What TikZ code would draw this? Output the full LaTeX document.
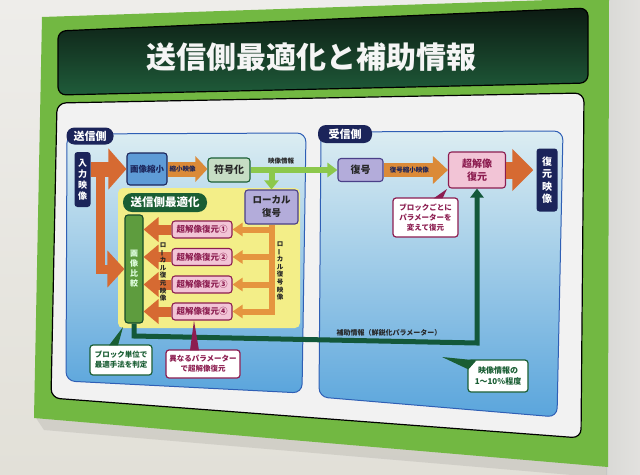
\documentclass[tikz,border=0pt]{standalone}
\usepackage{fontspec}
\setmainfont{Noto Sans CJK JP}
\usetikzlibrary{arrows.meta,calc}
\definecolor{walltop}{HTML}{EEEDEA}
\definecolor{wallbot}{HTML}{E2E0D8}
\definecolor{wallright}{HTML}{D9D9D6}
\definecolor{boardgreen}{HTML}{72B842}
\definecolor{titletop}{HTML}{0C1A12}
\definecolor{titlebot}{HTML}{1F5C3A}
\definecolor{panelwhite}{HTML}{F2F2F2}
\definecolor{bluetop}{HTML}{DCEDF2}
\definecolor{bluebot}{HTML}{5AA5DC}
\definecolor{panelborder}{HTML}{2F5FB5}
\definecolor{navy}{HTML}{1B245A}
\definecolor{borange}{HTML}{D66A32}
\definecolor{lorange}{HTML}{E5953F}
\definecolor{gorange}{HTML}{DB8A38}
\definecolor{srfill}{HTML}{F2C4D6}
\definecolor{srdraw}{HTML}{8C1D50}
\definecolor{lavfill}{HTML}{B3ACDA}
\definecolor{lavdraw}{HTML}{4A3F88}
\definecolor{shrinkfill}{HTML}{5E9BD6}
\definecolor{encfill}{HTML}{C6DDC4}
\definecolor{dgreen}{HTML}{1A5E34}
\definecolor{lgreen}{HTML}{8CC84C}
\definecolor{cmpfill}{HTML}{5E9C3E}
\definecolor{yellowbg}{HTML}{F3EE88}
\definecolor{auxgreen}{HTML}{13583A}
\newcommand{\vchoon}{\rotatebox[origin=c]{90}{ー}}
\tikzset{
  navytag/.style={fill=navy, text=white, rounded corners=8pt, inner sep=0pt, font=\bfseries\fontsize{11}{11}\selectfont, minimum height=17pt},
  navybox/.style={fill=navy, text=white, rounded corners=3pt, inner sep=0pt, align=center, font=\bfseries\fontsize{9}{11}\selectfont},
  shrinkbox/.style={fill=shrinkfill, draw=navy, line width=1.1pt, rounded corners=3pt, text=navy, font=\bfseries\fontsize{8.5}{10}\selectfont, minimum width=40pt, minimum height=32pt, inner sep=0pt},
  encbox/.style={fill=encfill, draw=dgreen, line width=1.1pt, rounded corners=3pt, text=black!85, font=\bfseries\fontsize{10}{10}\selectfont, minimum width=42pt, minimum height=24pt, inner sep=0pt},
  lavbox/.style={fill=lavfill, draw=lavdraw, line width=1.1pt, rounded corners=3pt, text=black!85, align=center, inner sep=0pt},
  srbox/.style={fill=srfill, draw=srdraw, line width=1.1pt, rounded corners=3pt, text=srdraw, inner sep=0pt, align=center},
  greenpill/.style={fill=dgreen, text=white, rounded corners=9pt, minimum width=84pt, minimum height=19pt, inner sep=0pt, font=\bfseries\fontsize{11.5}{11.5}\selectfont},
  cmpbox/.style={fill=cmpfill, draw=dgreen!80!black, line width=1.1pt, rounded corners=3pt, text=white!88!green, align=center, inner sep=0pt, font=\bfseries\fontsize{8}{10}\selectfont},
  calloutG/.style={fill=white, draw=dgreen, line width=1.2pt, rounded corners=3pt, text=dgreen, align=center, inner sep=0pt, font=\bfseries\fontsize{7.5}{10}\selectfont},
  calloutM/.style={fill=white, draw=srdraw, line width=1.2pt, rounded corners=3pt, text=srdraw, align=center, inner sep=0pt, font=\bfseries\fontsize{7.5}{10}\selectfont},
  lbl/.style={font=\bfseries\fontsize{6.5}{7.5}\selectfont, text=black!85, inner sep=0pt, align=center},
  vlbl/.style={font=\bfseries\fontsize{6.5}{7.6}\selectfont, text=black!85, inner sep=0pt, align=center},
}
\begin{document}
\begin{tikzpicture}[x=1pt,y=-1pt,line join=miter]
\useasboundingbox (0,0) rectangle (640,474);
% wall
\shade[top color=walltop, bottom color=wallbot] (0,0) rectangle (640,474);
\shade[left color=wallright, right color=walltop!95!black] (606,0) rectangle (640,474);
% board shadow
\fill[black, opacity=0.08] (36,418) -- (607,466) -- (607,478) -- (44,430) -- cycle;
% green board
\fill[boardgreen] (42,17) -- (609,-2) -- (608,467) -- (34,418) -- cycle;
% title bar
\shade[top color=titletop, bottom color=titlebot, rounded corners=8pt] (58,31) -- (588,8) -- (588,83) -- (58,95) -- cycle;
\draw[black, line width=1.2pt, rounded corners=8pt] (58,31) -- (588,8) -- (588,83) -- (58,95) -- cycle;
\node[text=white!92!gray, font=\bfseries\fontsize{30}{30}\selectfont, inner sep=0pt] (title) at (311,57) {送信側最適化と補助情報};
% white panel
\fill[panelwhite, draw=black, line width=1.2pt, rounded corners=9pt] (57,103) -- (584,93) -- (581,438) -- (51,398) -- cycle;
% blue panels
\shade[top color=bluetop, bottom color=bluebot, rounded corners=9pt] (67,134) -- (306,133) -- (302,393) -- (66,381) -- cycle;
\draw[panelborder, line width=1pt, rounded corners=9pt] (67,134) -- (306,133) -- (302,393) -- (66,381) -- cycle;
\shade[top color=bluetop, bottom color=bluebot, rounded corners=9pt] (321,132) -- (563,131) -- (557,417) -- (319,397) -- cycle;
\draw[panelborder, line width=1pt, rounded corners=9pt] (321,132) -- (563,131) -- (557,417) -- (319,397) -- cycle;
% yellow optimisation area
\fill[yellowbg, rounded corners=5pt] (118,188) rectangle (300,328);

% ---- nodes: sender
\node[navytag, minimum width=47pt] (send) at (90,136) {送信側};
\node[navybox, minimum width=16pt, minimum height=55pt] (in) at (82.5,179.5) {入\\力\\映\\像};
\node[shrinkbox] (shrink) at (147,169) {画像縮小};
\node[encbox] (enc) at (229,170) {符号化};
\node[lavbox, minimum width=53pt, minimum height=34pt, font=\bfseries\fontsize{9.5}{13}\selectfont] (ldec) at (271.5,207) {ローカル\\復号};
\node[greenpill] (opt) at (165,202.5) {送信側最適化};
\node[cmpbox, minimum width=18pt, minimum height=108pt] (cmp) at (134,269) {画\\像\\比\\較};
\foreach \i/\yy/\c in {1/229.5/①,2/257/②,3/284.5/③,4/311.5/④}{
  \node[srbox, minimum width=60pt, minimum height=17pt, font=\bfseries\fontsize{8.5}{9}\selectfont] (sr\i) at (202,\yy) {超解像復元\c};
}

% ---- nodes: receiver
\node[navytag, minimum width=54pt, minimum height=18pt] (recv) at (345,134) {受信側};
\node[lavbox, minimum width=45pt, minimum height=23pt, font=\bfseries\fontsize{10}{10}\selectfont] (dec) at (360.5,170) {復号};
\node[srbox, minimum width=57pt, minimum height=36pt, font=\bfseries\fontsize{10}{13}\selectfont] (sr) at (477,170) {超解像\\復元};
\node[navybox, minimum width=21pt, minimum height=63pt, font=\bfseries\fontsize{10}{12.5}\selectfont] (out) at (547,180) {復\\元\\映\\像};

% ---- arrows: sender
\draw[borange, line width=15pt, -{Triangle[length=18pt,width=40pt]}] (in.east |- shrink.west) -- (shrink.west);
\coordinate (br) at (100,166);
\draw[borange, line width=9pt, -{Triangle[length=17pt,width=36pt]}] (br) |- (cmp.west);
\draw[gorange, line width=15pt, -{Triangle[length=12pt,width=25pt]}] (shrink.east) -- node[pos=0.38, lbl, text=navy] {縮小映像} (enc.west |- shrink.east);
\draw[lgreen, line width=6pt, -{Triangle[length=10pt,width=14pt]}] (enc.east) -- (dec.west);
\node[lbl] (vinfo) at (281,161) {映像情報};
\coordinate (jn) at (ldec.north |- enc.east);
\draw[lgreen, line width=6pt, -{Triangle[length=9pt,width=14pt]}] ($(jn)+(0,-3)$) -- (ldec.north);
% local decoded distribution
\draw[lorange, line width=6pt] (ldec.south) -- ($(ldec.south |- sr4.east)+(0,3)$);
\foreach \i in {1,2,3,4}{
  \draw[lorange, line width=6pt, -{Triangle[length=10pt,width=13pt]}] ($(ldec.south |- sr\i.east)+(3,0)$) -- (sr\i.east);
  \draw[borange, line width=10pt, -{Triangle[length=15pt,width=24pt]}] (sr\i.west) -- (cmp.east |- sr\i.west);
}
\node[vlbl] (lrec) at (163,272) {ロ\\\vchoon\\カ\\ル\\復\\元\\映\\像};
\node[vlbl] (ldecimg) at (280,271) {ロ\\\vchoon\\カ\\ル\\復\\号\\映\\像};
% auxiliary information line
\coordinate (g1) at (134,336);
\coordinate (g2) at (477,343);
\draw[auxgreen, line width=5pt, -{Triangle[length=9pt,width=13pt]}] (cmp.south) -- (g1) -- (g2) -- (sr.south);
\node[lbl, font=\bfseries\fontsize{7}{8}\selectfont] (auxlbl) at (389,333) {補助情報（鮮鋭化パラメーター）};

% ---- arrows: receiver
\draw[gorange, line width=14pt, -{Triangle[length=15pt,width=27pt]}] (dec.east) -- node[pos=0.4, lbl, text=navy] {復号縮小映像} (sr.west);
\draw[borange, line width=17pt, -{Triangle[length=21pt,width=41pt]}, shorten >=3pt] (sr.east) -- (out.west |- sr.east);

% ---- callouts
\node[calloutG, minimum width=62pt, minimum height=30pt] (c1) at (121,360) {ブロック単位で\\最適手法を判定};
\coordinate (t1) at (123,327);
\fill[dgreen] ($(c1.north)+(-12,1)$) -- ($(c1.north)+(-3,1)$) -- (t1) -- cycle;
\node[calloutM, minimum width=74pt, minimum height=28pt] (c2) at (203,364) {異なるパラメーター\\で超解像復元};
\fill[srdraw] ($(c2.north)+(-13,1)$) -- ($(c2.north)+(-4,1)$) -- (sr4.south -| 194,0) -- cycle;
\node[calloutM, minimum width=65pt, minimum height=39pt] (c3) at (425.5,217.5) {ブロックごとに\\パラメーターを\\変えて復元};
\coordinate (t3) at (447,189);
\fill[srdraw] ($(c3.north)+(8,1)$) -- ($(c3.north)+(17,1)$) -- (t3) -- cycle;
\node[calloutG, minimum width=60pt, minimum height=32pt, font=\bfseries\fontsize{8}{11}\selectfont] (c4) at (498,376) {映像情報の\\1〜10\%程度};
\coordinate (t4) at (442,357);
\fill[dgreen] ($(c4.north west)+(1,10)$) -- ($(c4.north west)+(9,1)$) -- (t4) -- cycle;
\end{tikzpicture}
\end{document}
